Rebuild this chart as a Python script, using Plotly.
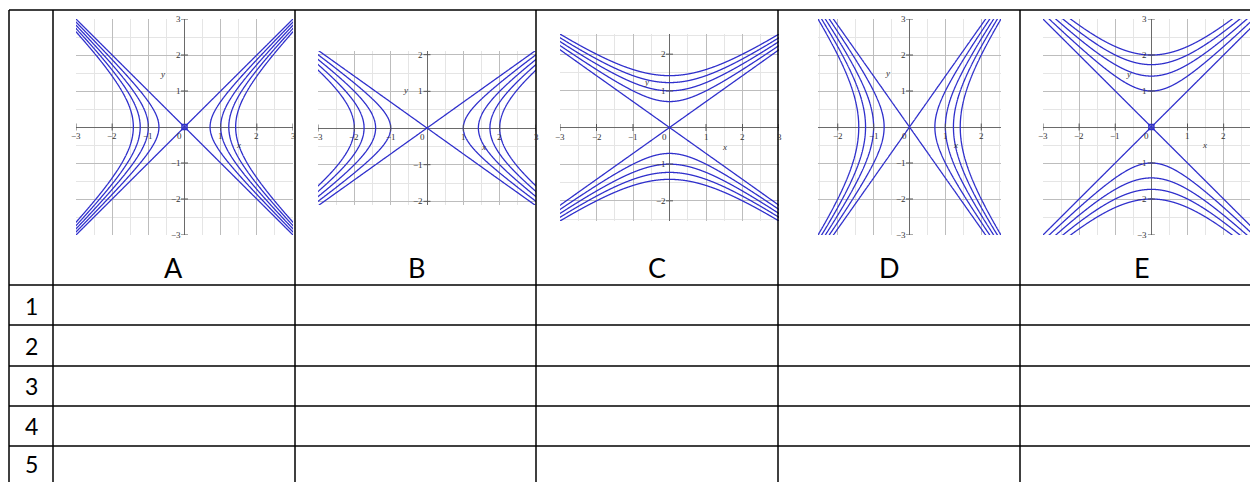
import numpy as np
import plotly.graph_objects as go

# Tabla con 5 gráficos de curvas de nivel (hipérbolas) y filas 1-5 vacías
etiquetas = ["A", "B", "C", "D", "E"]
filas = ["1", "2", "3", "4", "5"]

# f(x, y) = cx*x^2 + cy*y^2, curvas de nivel k = 0..4
coef_x2 = [2, 1, -1, 2, -1]
coef_y2 = [-2, -2, 2, -1, 1]
nivel_ini, nivel_fin, nivel_paso = 0, 4, 1

# rangos de ejes de cada gráfico
rango_x = [[-3, 3], [-3, 3], [-3, 3], [-2.55, 2.55], [-3, 2.73]]
rango_y = [[-3, 3], [-2.1, 2.1], [-2.55, 2.55], [-3, 3], [-3, 3]]

# marcas numeradas en los ejes
marcas_x = [[-3, -2, -1, 0, 1, 2, 3], [-3, -2, -1, 0, 1, 2, 3], [-3, -2, -1, 0, 1, 2, 3],
            [-2, -1, 0, 1, 2], [-3, -2, -1, 0, 1, 2]]
marcas_y = [[-3, -2, -1, 1, 2, 3], [-2, -1, 1, 2], [-2, -1, 1, 2],
            [-3, -2, -1, 1, 2, 3], [-3, -2, -1, 1, 2, 3]]

# cuadradito en el origen (A y E)
cuadro_origen = [True, False, False, False, True]

# posición de las letras "x" e "y" (en coordenadas de datos)
pos_lbl_x = [(1.48, -0.51), (1.55, -0.52), (1.5, -0.52), (1.29, -0.51), (1.48, -0.51)]
pos_lbl_y = [(-0.61, 1.46), (-0.58, 1.03), (-0.62, 1.25), (-0.61, 1.49), (-0.63, 1.46)]

W, H = 1250, 482
AZUL = "#2f2fcc"

# cajas (en px) de cada gráfico: x0, x1, y0, y1
cajas = [(76, 293, 19, 235), (318, 536, 51, 205), (560, 779, 34, 221),
         (818, 1001, 19, 235), (1043, 1250, 19, 235)]
centro_letra = [173, 416, 657, 889, 1142]


def px(x):
    return x / W


def py(y):
    return 1 - y / H


def num(v):
    return str(v).replace("-", "\u2212")


fig = go.Figure()
anots = []

for i in range(5):
    sx = "x" if i == 0 else f"x{i+1}"
    sy = "y" if i == 0 else f"y{i+1}"
    xs = np.linspace(-3.2, 3.2, 640)
    ys = np.linspace(-3.2, 3.2, 626)
    X, Y = np.meshgrid(xs, ys)
    Z = coef_x2[i] * X**2 + coef_y2[i] * Y**2

    fig.add_trace(go.Contour(
        x=xs, y=ys, z=Z, xaxis=sx, yaxis=sy,
        contours=dict(start=nivel_ini, end=nivel_fin, size=nivel_paso, coloring="lines"),
        colorscale=[[0, AZUL], [1, AZUL]], showscale=False,
        line=dict(width=1.3), hoverinfo="skip"))

    # marcas pequeñas sobre los ejes
    tx = [t for t in marcas_x[i] if t != 0]
    fig.add_trace(go.Scatter(x=tx, y=[0] * len(tx), mode="markers", xaxis=sx, yaxis=sy,
                             marker=dict(symbol="line-ns", size=5, line=dict(color="#555", width=1)),
                             showlegend=False, hoverinfo="skip"))
    fig.add_trace(go.Scatter(x=[0] * len(marcas_y[i]), y=marcas_y[i], mode="markers", xaxis=sx, yaxis=sy,
                             marker=dict(symbol="line-ew", size=5, line=dict(color="#555", width=1)),
                             showlegend=False, hoverinfo="skip"))
    if cuadro_origen[i]:
        fig.add_trace(go.Scatter(x=[0], y=[0], mode="markers", xaxis=sx, yaxis=sy,
                                 marker=dict(symbol="square-open", size=5, color=AZUL,
                                             line=dict(color=AZUL, width=1.5)),
                                 showlegend=False, hoverinfo="skip"))

    x0, x1, y0, y1 = cajas[i]
    ejes = dict(showticklabels=False, ticks="", showline=False, fixedrange=True,
                showgrid=True, gridcolor="#bdbdbd", gridwidth=1, dtick=1, tick0=0,
                minor=dict(dtick=0.5, showgrid=True, gridcolor="#e5e5e5", gridwidth=1),
                zeroline=True, zerolinecolor="#6a6a6a", zerolinewidth=1.4)
    nx = "xaxis" if i == 0 else f"xaxis{i+1}"
    ny = "yaxis" if i == 0 else f"yaxis{i+1}"
    fig.update_layout(**{
        nx: dict(ejes, domain=[px(x0), px(x1)], range=rango_x[i], anchor=sy),
        ny: dict(ejes, domain=[py(y1), py(y0)], range=rango_y[i], anchor=sx),
    })

    fuente = dict(family="Liberation Serif", size=9, color="#333")
    for t in marcas_x[i]:
        anots.append(dict(x=t, y=0, xref=sx, yref=sy, text=num(t), showarrow=False,
                          font=fuente, yshift=-9, xshift=-5 if t == 0 else 0))
    for t in marcas_y[i]:
        anots.append(dict(x=0, y=t, xref=sx, yref=sy, text=num(t), showarrow=False,
                          font=fuente, xanchor="right", xshift=-2))
    anots.append(dict(x=pos_lbl_x[i][0], y=pos_lbl_x[i][1], xref=sx, yref=sy, text="<i>x</i>",
                      showarrow=False, font=fuente))
    anots.append(dict(x=pos_lbl_y[i][0], y=pos_lbl_y[i][1], xref=sx, yref=sy, text="<i>y</i>",
                      showarrow=False, font=fuente))

    # letra del gráfico
    anots.append(dict(x=px(centro_letra[i]), y=py(267), xref="paper", yref="paper",
                      xanchor="center", yanchor="middle",
                      text=etiquetas[i], showarrow=False,
                      font=dict(family="Lato", size=27, color="black")))

# números de fila
centros_fila = [306, 346, 386, 426, 464]
for f, c in zip(filas, centros_fila):
    anots.append(dict(x=px(31), y=py(c), xref="paper", yref="paper", text=f, showarrow=False,
                      xanchor="center", yanchor="middle",
                      font=dict(family="Lato", size=23, color="black")))

# líneas de la tabla
lineas = []
for xv in [9, 53, 295, 536, 778, 1020]:
    lineas.append(dict(type="line", xref="paper", yref="paper", x0=px(xv), x1=px(xv),
                       y0=py(10), y1=py(482), line=dict(color="black", width=1.5)))
for yv in [10, 285, 325, 366, 406, 446]:
    lineas.append(dict(type="line", xref="paper", yref="paper", x0=px(9), x1=1,
                       y0=py(yv), y1=py(yv), line=dict(color="black", width=1.5)))

fig.update_layout(width=W, height=H, margin=dict(l=0, r=0, t=0, b=0),
                  paper_bgcolor="white", plot_bgcolor="white", showlegend=False,
                  annotations=anots, shapes=lineas)

fig.write_html("out.html", config={"displayModeBar": False},
               post_script="document.body.style.margin='0px';")
